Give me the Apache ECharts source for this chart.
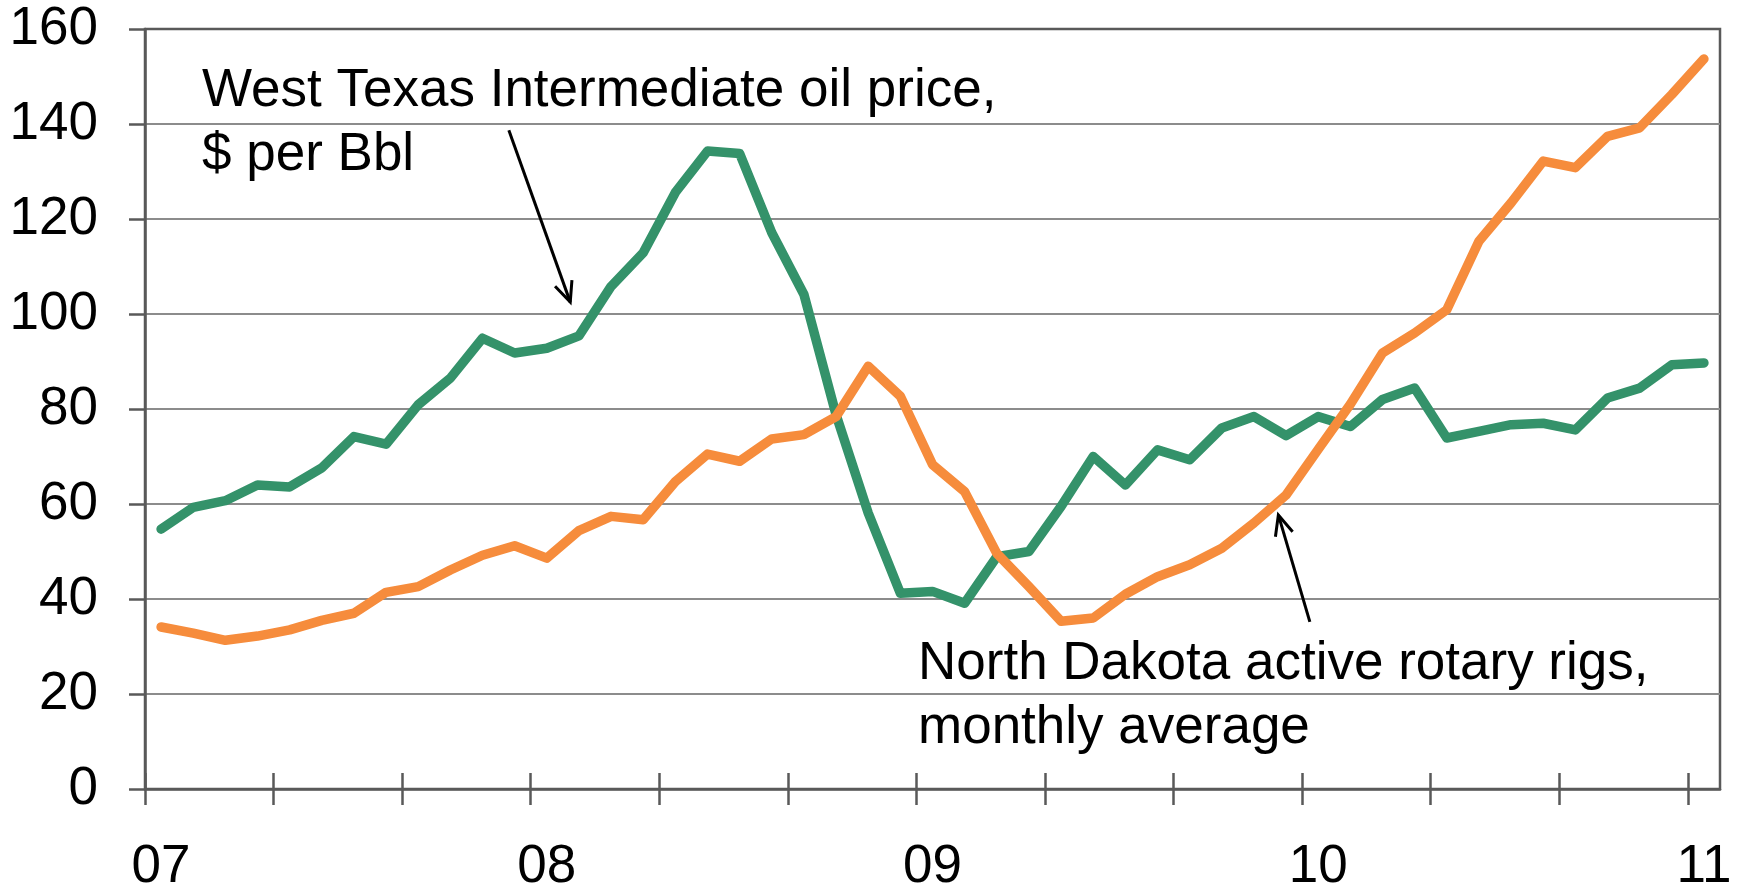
<!DOCTYPE html>
<html>
  <head>
    <meta charset="utf-8" />
    <title>WTI oil price and North Dakota rotary rigs</title>
    <script src="https://cdn.jsdelivr.net/npm/echarts@6/dist/echarts.min.js"></script>
    <style>
      html, body { margin: 0; padding: 0; background: #fff; }
      #chart { width: 1737px; height: 889px; }
    </style>
  </head>
  <body>
    <div id="chart"></div>
    <script type="text/javascript">
      // monthly values, Jan 2007 .. Jan 2011 (49 months)
      var yearLabels = ['07', '08', '09', '10', '11'];
      var wtiPrice = [
        54.7, 59.3, 60.7, 64.0, 63.6, 67.6, 74.2, 72.6, 80.9, 86.5, 94.9, 91.8,
        92.8, 95.4, 105.8, 112.9, 125.6, 134.3, 133.8, 117.1, 104.1, 78.8, 58.1, 41.2,
        41.6, 39.1, 48.9, 50.0, 59.5, 70.0, 64.0, 71.4, 69.3, 76.0, 78.4, 74.4,
        78.4, 76.3, 82.0, 84.4, 73.9, 75.3, 76.7, 77.0, 75.6, 82.3, 84.4, 89.3,
        89.7
      ];
      var ndRigs = [
        34.1, 32.8, 31.3, 32.2, 33.5, 35.5, 37.0, 41.4, 42.6, 46.1, 49.2, 51.2,
        48.6, 54.4, 57.4, 56.7, 64.7, 70.5, 69.0, 73.7, 74.6, 78.4, 89.0, 82.7,
        68.3, 62.6, 49.6, 42.6, 35.3, 36.0, 41.0, 44.7, 47.2, 50.7, 56.0, 61.9,
        71.5, 81.0, 91.8, 96.0, 100.9, 115.3, 123.4, 132.2, 130.8, 137.4, 139.2, 146.2,
        153.7
      ];
      var tickMonths = [0, 4, 8, 12, 16, 20, 24, 28, 32, 36, 40, 44, 48];
      var labelMonths = [0, 12, 24, 36, 48];

      var FONT = '"Liberation Sans", Arial, sans-serif';
      var AXIS = '#595959';

      function toPoints(values) {
        return values.map(function (v, i) { return [i + 0.5, v]; });
      }

      var chart = echarts.init(document.getElementById('chart'), null, { renderer: 'canvas' });

      chart.setOption({
        animation: false,
        backgroundColor: '#fff',
        grid: {
          left: 145, right: 17, top: 29, bottom: 100,
          outerBoundsMode: 'none', containLabel: false,
          show: true, borderColor: AXIS, borderWidth: 2.5
        },
        xAxis: [{
          type: 'value', min: 0, max: 49,
          axisLine: { show: true, lineStyle: { color: AXIS, width: 2.5 } },
          axisTick: { show: true, length: 16, customValues: tickMonths, lineStyle: { color: AXIS, width: 2.5 } },
          axisLabel: {
            customValues: labelMonths.map(function (m) { return m + 0.5; }),
            formatter: function (v) { return yearLabels[Math.round((v - 0.5) / 12)]; },
            fontSize: 53, fontFamily: FONT, color: '#000', margin: 52
          },
          splitLine: { show: false }
        }, {
          type: 'value', min: 0, max: 49, position: 'bottom',
          axisLine: { show: false },
          axisTick: { show: true, inside: true, length: 16, customValues: tickMonths, lineStyle: { color: AXIS, width: 2.5 } },
          axisLabel: { show: false },
          splitLine: { show: false }
        }],
        yAxis: {
          type: 'value', min: 0, max: 160, interval: 20,
          axisLine: { show: true, lineStyle: { color: AXIS, width: 2.5 } },
          axisTick: { show: true, length: 16, lineStyle: { color: AXIS, width: 2.5 } },
          axisLabel: { fontSize: 53, fontFamily: FONT, color: '#000', margin: 47 },
          splitLine: { show: true, showMinLine: false, showMaxLine: false, lineStyle: { color: '#8c8c8c', width: 2 } }
        },
        series: [{
          name: 'West Texas Intermediate oil price',
          type: 'line', xAxisIndex: 0, showSymbol: false,
          data: toPoints(wtiPrice),
          lineStyle: { color: '#34926a', width: 9.5, cap: 'round', join: 'round' }
        }, {
          name: 'North Dakota active rotary rigs',
          type: 'line', xAxisIndex: 0, showSymbol: false,
          data: toPoints(ndRigs),
          lineStyle: { color: '#f68c3c', width: 9.5, cap: 'round', join: 'round' }
        }]
      });

      // annotation arrows, anchored in data space [month, value]
      function arrow(from, to) {
        var a = chart.convertToPixel({ gridIndex: 0 }, from);
        var b = chart.convertToPixel({ gridIndex: 0 }, to);
        var ang = Math.atan2(b[1] - a[1], b[0] - a[0]);
        var len = 22, spread = 0.42;
        var w1 = [b[0] - len * Math.cos(ang - spread), b[1] - len * Math.sin(ang - spread)];
        var w2 = [b[0] - len * Math.cos(ang + spread), b[1] - len * Math.sin(ang + spread)];
        var st = { stroke: '#000', lineWidth: 3, fill: null, lineCap: 'butt' };
        return [
          { type: 'line', shape: { x1: a[0], y1: a[1], x2: b[0], y2: b[1] }, style: st, z: 100 },
          { type: 'polyline', shape: { points: [w1, b, w2] }, style: st, z: 100 }
        ];
      }

      var graphics = [
        {
          type: 'text', left: 202, top: 59, z: 100,
          style: { text: 'West Texas Intermediate oil price,\n$ per Bbl', font: '53px ' + FONT, fill: '#000', lineHeight: 64 }
        },
        {
          type: 'text', left: 918, top: 632, z: 100,
          style: { text: 'North Dakota active rotary rigs,\nmonthly average', font: '53px ' + FONT, fill: '#000', lineHeight: 64 }
        }
      ].concat(arrow([11.32, 138.7], [13.23, 102.5]), arrow([36.24, 35.2], [35.26, 57.7]));

      chart.setOption({ graphic: graphics });
    </script>
  </body>
</html>
